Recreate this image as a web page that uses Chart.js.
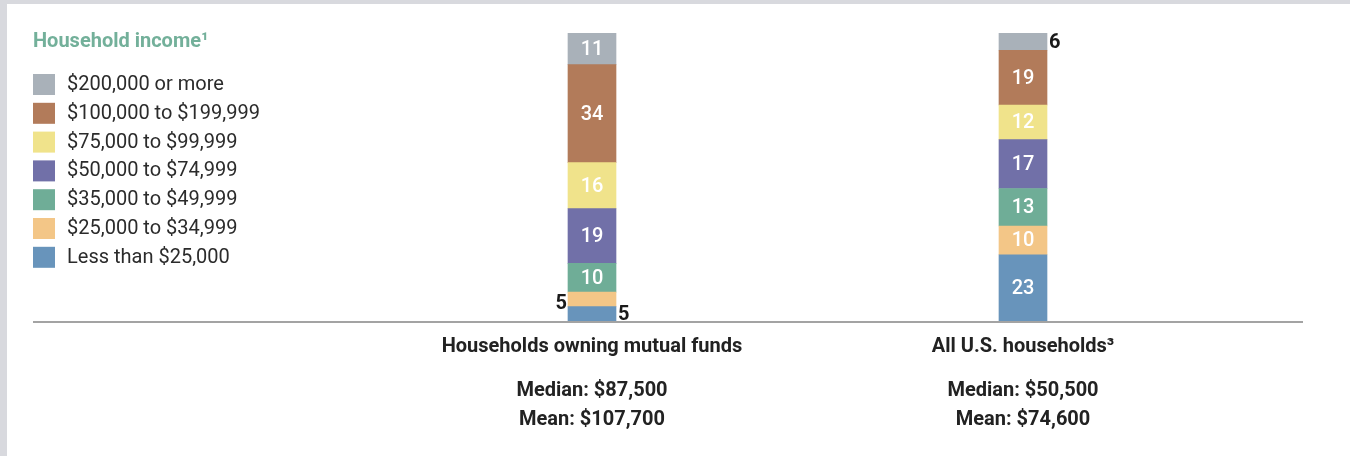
<!DOCTYPE html>
<html>
<head>
<meta charset="utf-8">
<script src="https://cdn.jsdelivr.net/npm/chart.js@4"></script>
<style>
  body { margin: 0; background: #fff; }
  #wrap { width: 1350px; height: 456px; }
</style>
</head>
<body>
<div id="wrap"><canvas id="chart" width="1350" height="456"></canvas></div>
<script>
// categories + summary lines under each bar
const groups = ["Households owning mutual funds", "All U.S. households\u00b3"]
const medians = ["Median: $87,500", "Median: $50,500"]
const means = ["Mean: $107,700", "Mean: $74,600"]

// income bands, bottom of the stack first
const bands = ["Less than $25,000", "$25,000 to $34,999", "$35,000 to $49,999", "$50,000 to $74,999", "$75,000 to $99,999", "$100,000 to $199,999", "$200,000 or more"]
const fundOwners = [5, 5, 10, 19, 16, 34, 11]
const allHouseholds = [23, 10, 13, 17, 12, 19, 6]
const colors = ["#6894bb", "#f3c687", "#6fad97", "#7170a8", "#f0e38b", "#b27b5a", "#a9b1b9"]

const legendTitle = "Household income\u00b9"
const FONT = "Roboto, 'Noto Sans', sans-serif"

const datasets = bands.map((b, i) => {
    return {
        label: b,
        data: [fundOwners[i], allHouseholds[i]],
        backgroundColor: colors[i],
        barThickness: 48
    }
})

// frame, legend, baseline, labels
const decor = {
    id: 'decor',
    beforeDraw(chart) {
        const ctx = chart.ctx
        ctx.save()
        ctx.fillStyle = '#d8d9de'
        ctx.fillRect(0, 0, 1350, 4)
        ctx.fillRect(0, 0, 7, 456)
        ctx.restore()
    },
    afterDraw(chart) {
        const ctx = chart.ctx
        const area = chart.chartArea
        ctx.save()
        // baseline
        ctx.strokeStyle = '#a3a3a3'
        ctx.lineWidth = 2
        ctx.beginPath()
        ctx.moveTo(33, area.bottom + 1)
        ctx.lineTo(1303, area.bottom + 1)
        ctx.stroke()

        // legend
        ctx.textBaseline = 'middle'
        ctx.textAlign = 'left'
        ctx.fillStyle = '#73b09a'
        ctx.font = "bold 20px " + FONT
        ctx.fillText(legendTitle, 33, 42)
        ctx.font = "20px " + FONT
        for (let k = 0; k < bands.length; k++) {
            const i = bands.length - 1 - k
            const y = 74 + k * 28.8
            ctx.fillStyle = colors[i]
            ctx.fillRect(33, y, 22, 21)
            ctx.fillStyle = '#2b2b2b'
            ctx.fillText(bands[i], 67, y + 11)
        }

        // category labels
        const xs = chart.scales.x
        ctx.textAlign = 'center'
        ctx.fillStyle = '#222'
        groups.forEach((g, j) => {
            const x = xs.getPixelForValue(j)
            ctx.font = "bold 20px " + FONT
            ctx.fillText(g, x, 347)
            ctx.fillText(medians[j], x, 391)
            ctx.fillText(means[j], x, 420)
        })

        // value labels
        for (let j = 0; j < groups.length; j++) {
            let prevRight = false
            chart.data.datasets.forEach((ds, i) => {
                const bar = chart.getDatasetMeta(i).data[j]
                const h = bar.base - bar.y
                const cy = (bar.y + bar.base) / 2
                const v = ds.data[j]
                if (h >= 24) {
                    ctx.font = "500 20px " + FONT
                    ctx.fillStyle = '#fff'
                    ctx.textAlign = 'center'
                    ctx.fillText(v, bar.x, cy + 1)
                    prevRight = false
                } else if (prevRight) {
                    ctx.font = "bold 20px " + FONT
                    ctx.fillStyle = '#1a1a1a'
                    ctx.textAlign = 'right'
                    ctx.fillText(v, bar.x - bar.width / 2 - 1, cy + 5)
                    prevRight = false
                } else {
                    ctx.font = "bold 20px " + FONT
                    ctx.fillStyle = '#1a1a1a'
                    ctx.textAlign = 'left'
                    ctx.fillText(v, bar.x + bar.width / 2 + 2, cy + 1)
                    prevRight = true
                }
            })
        }
        ctx.restore()
    }
}

new Chart(document.getElementById("chart"), {
    type: 'bar',
    data: { labels: groups, datasets: datasets },
    options: {
        responsive: false,
        animation: false,
        layout: { padding: { left: 376.5, right: 111.5, top: 33, bottom: 135 } },
        plugins: { legend: { display: false }, tooltip: { enabled: false } },
        scales: {
            x: { stacked: true, display: false },
            y: { stacked: true, display: false, min: 0, max: 100 }
        }
    },
    plugins: [decor]
})
</script>
</body>
</html>
